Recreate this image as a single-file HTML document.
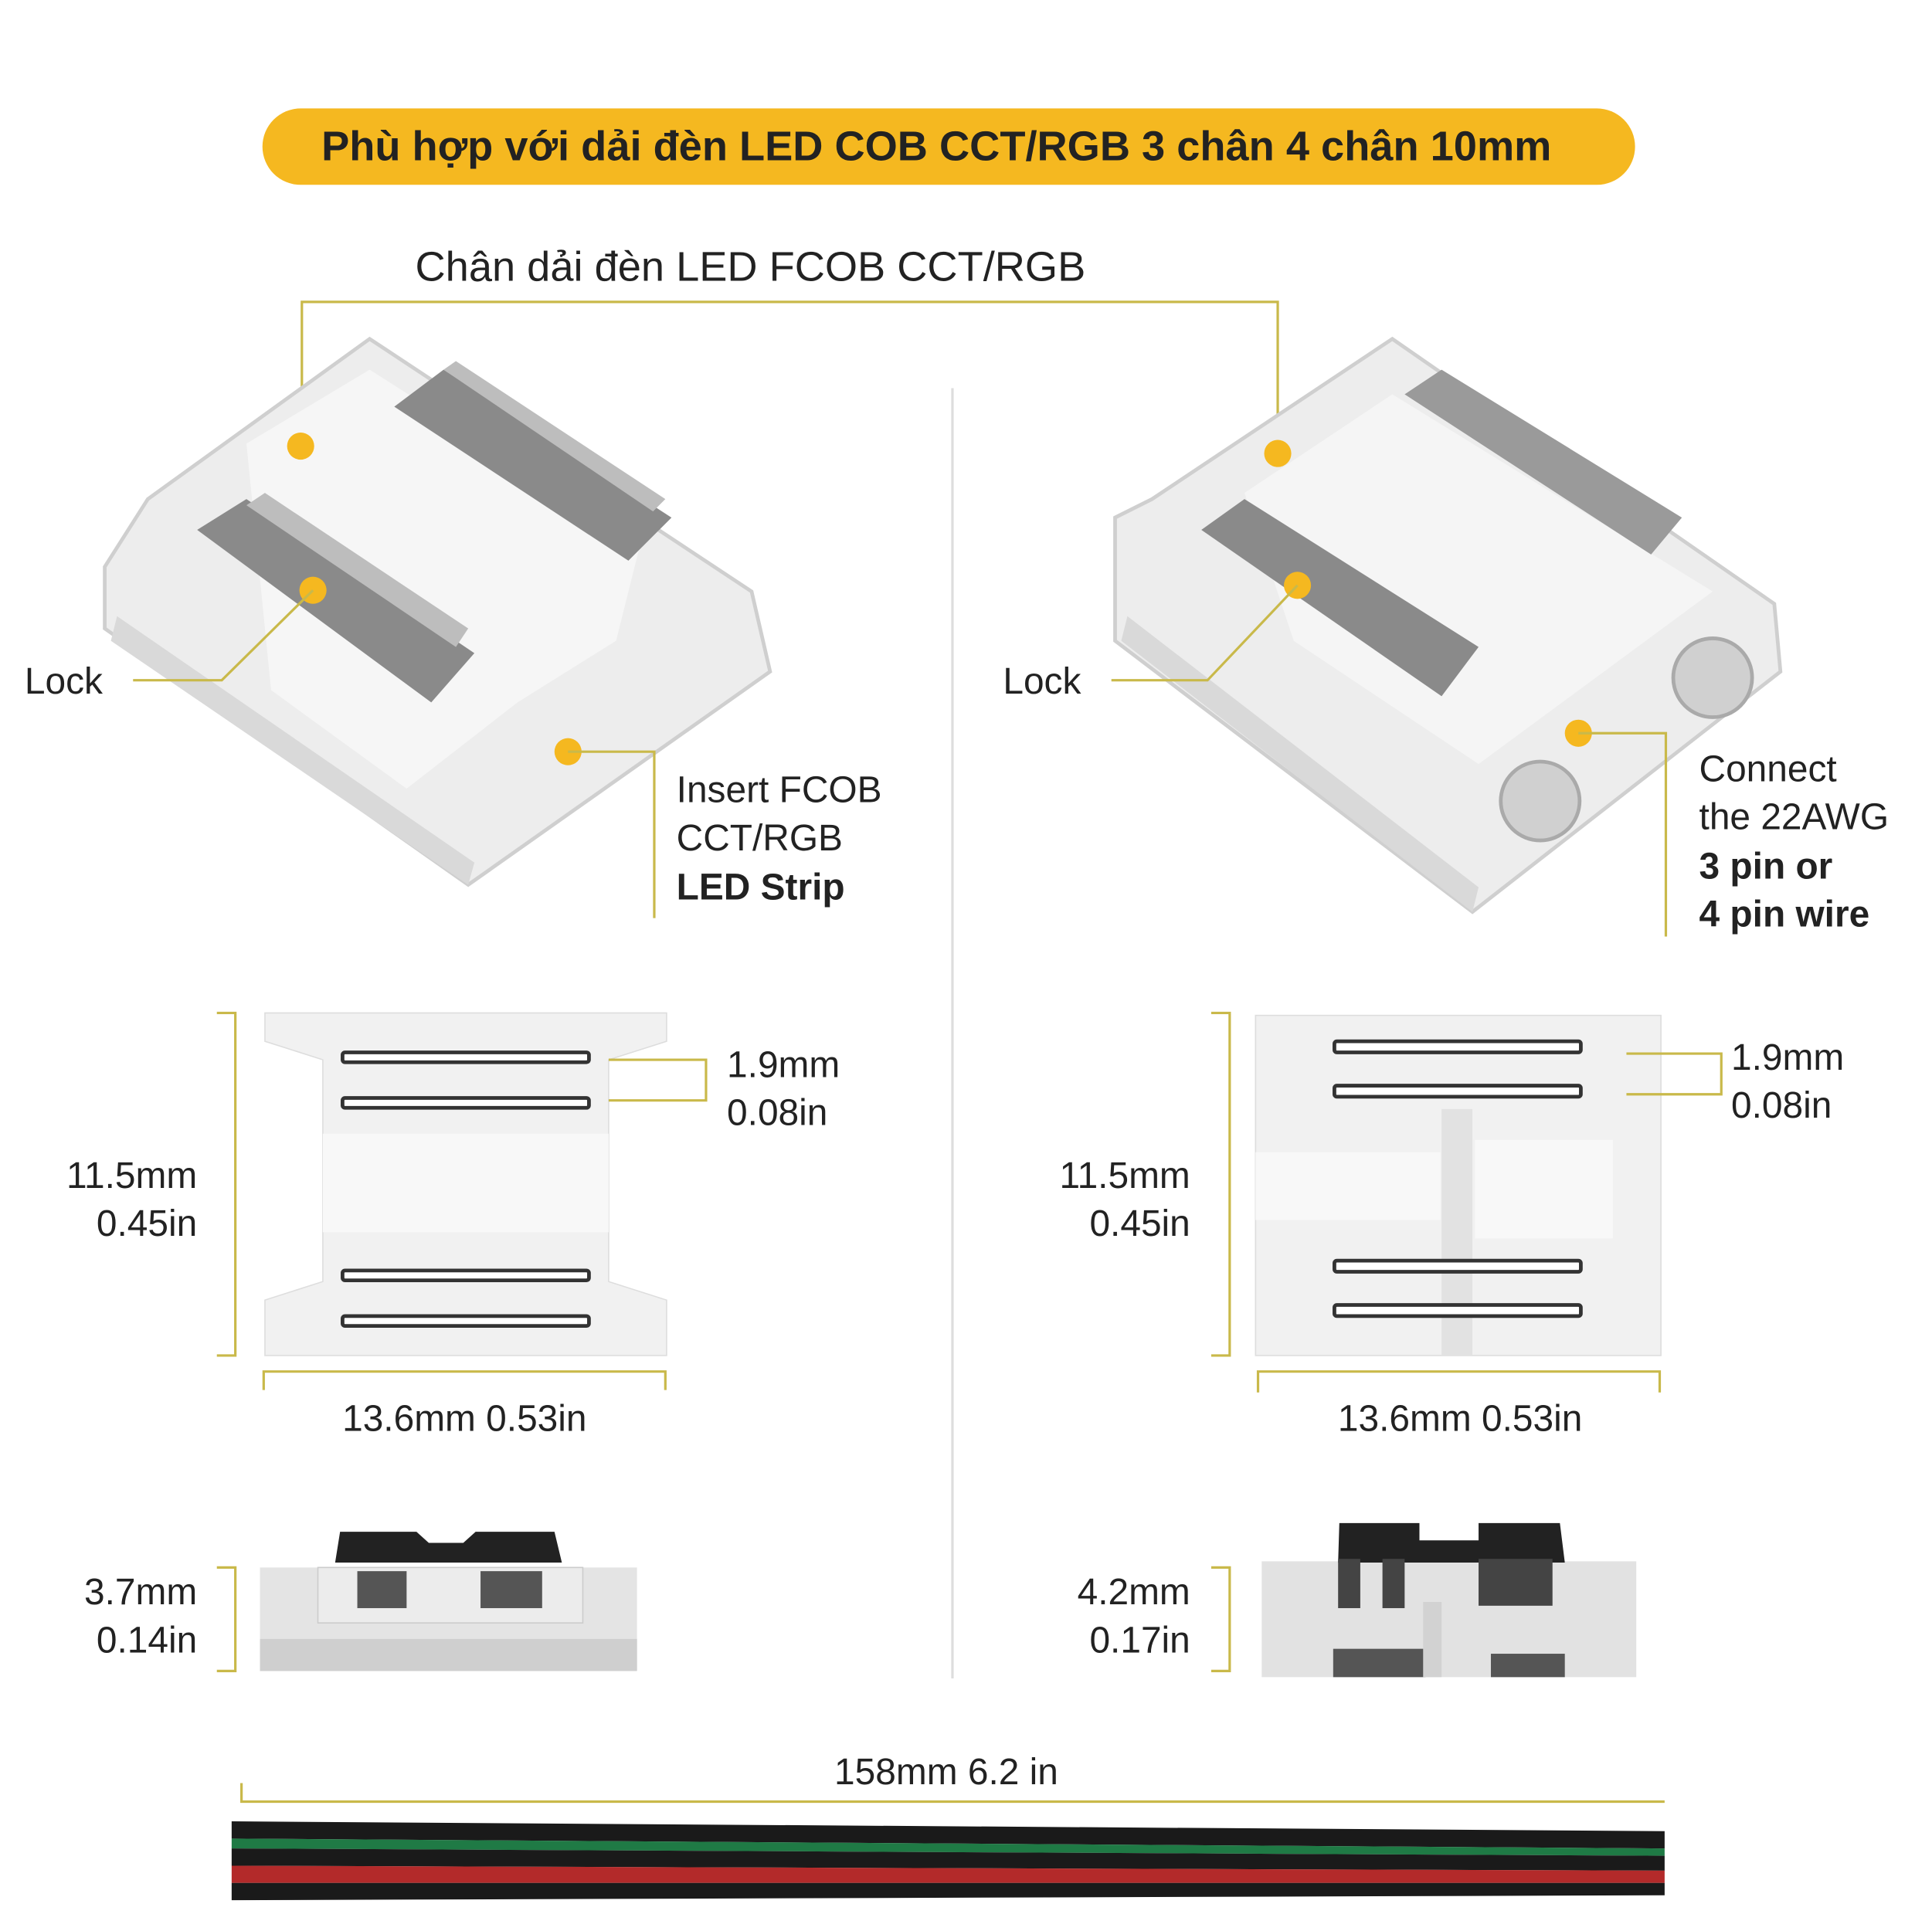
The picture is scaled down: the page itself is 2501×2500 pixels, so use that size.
<!DOCTYPE html>
<html><head><meta charset="utf-8"><style>
html,body{margin:0;padding:0;background:#fff}
svg{display:block}
text{font-family:"Liberation Sans",sans-serif;fill:#222}
</style></head><body>
<svg width="2501" height="2500" viewBox="0 0 1568 1567" preserveAspectRatio="none" xmlns="http://www.w3.org/2000/svg">
<rect width="1568" height="1567" fill="#fff"/>
<rect x="213" y="88" width="1114" height="62" rx="31" fill="#f5b820"/>
<text x="760" y="130" text-anchor="middle" font-size="34" font-weight="bold" fill="#111">Phù hợp với dải đèn LED COB CCT/RGB 3 chân 4 chân 10mm</text>
<text x="337" y="228" font-size="34">Chân dải đèn LED FCOB CCT/RGB</text>
<polyline points="245,360 245,245 1037,245 1037,368" fill="none" stroke="#c9b94a" stroke-width="2"/>
<line x1="773" y1="315" x2="773" y2="1362" stroke="#ddd" stroke-width="2"/>

<!-- left connector -->
<polygon points="85,460 120,405 300,275 610,480 625,545 380,718 85,510" fill="#ededed" stroke="#cfcfcf" stroke-width="3"/>
<polygon points="200,360 300,300 520,440 500,520 420,570 330,640 220,560" fill="#f6f6f6"/>
<polygon points="160,430 200,405 385,530 350,570" fill="#8a8a8a"/>
<polygon points="200,410 215,400 380,510 370,525" fill="#bdbdbd"/>
<polygon points="320,330 360,300 545,420 510,455" fill="#8a8a8a"/>
<polygon points="360,300 370,293 540,405 530,415" fill="#bdbdbd"/>
<polygon points="90,520 380,718 385,700 95,500" fill="#d9d9d9"/>
<circle cx="244" cy="362" r="11" fill="#f5b820"/>
<circle cx="254" cy="479" r="11" fill="#f5b820"/>
<circle cx="461" cy="610" r="11" fill="#f5b820"/>
<polyline points="108,552 180,552 254,479" fill="none" stroke="#c9b94a" stroke-width="2"/>
<polyline points="461,610 531,610 531,745" fill="none" stroke="#c9b94a" stroke-width="2"/>
<text x="20" y="563" font-size="30">Lock</text>
<text x="549" y="651" font-size="30">Insert FCOB</text>
<text x="549" y="690" font-size="30">CCT/RGB</text>
<text x="549" y="730" font-size="30" font-weight="bold">LED Strip</text>

<!-- right connector -->
<polygon points="905,420 935,405 1130,275 1440,490 1445,545 1195,740 905,520" fill="#ededed" stroke="#cfcfcf" stroke-width="3"/>
<polygon points="1010,400 1130,320 1390,480 1200,620 1050,520" fill="#f5f5f5"/>
<polygon points="975,430 1010,405 1200,525 1170,565" fill="#8a8a8a"/>
<polygon points="1140,320 1170,300 1365,420 1340,450" fill="#9a9a9a"/>
<circle cx="1250" cy="650" r="32" fill="#d0d0d0" stroke="#aaa" stroke-width="3"/>
<circle cx="1390" cy="550" r="32" fill="#d0d0d0" stroke="#aaa" stroke-width="3"/>
<polygon points="910,520 1195,740 1200,720 915,500" fill="#d9d9d9"/>
<circle cx="1037" cy="368" r="11" fill="#f5b820"/>
<circle cx="1053" cy="475" r="11" fill="#f5b820"/>
<circle cx="1281" cy="595" r="11" fill="#f5b820"/>
<polyline points="902,552 980,552 1053,475" fill="none" stroke="#c9b94a" stroke-width="2"/>
<polyline points="1281,595 1352,595 1352,760" fill="none" stroke="#c9b94a" stroke-width="2"/>
<text x="814" y="563" font-size="30">Lock</text>
<text x="1379" y="634" font-size="30">Connect</text>
<text x="1379" y="673" font-size="30">the 22AWG</text>
<text x="1379" y="713" font-size="30" font-weight="bold">3 pin or</text>
<text x="1379" y="752" font-size="30" font-weight="bold">4 pin wire</text>

<!-- left top view -->
<polygon points="215,822 541,822 541,845 494,860 494,1040 541,1055 541,1100 215,1100 215,1055 262,1040 262,860 215,845" fill="#f1f1f1" stroke="#ddd"/>
<rect x="262" y="920" width="232" height="80" fill="#f8f8f8"/>
<g fill="#fff" stroke="#333" stroke-width="3">
<rect x="278" y="854" width="200" height="8" rx="2"/><rect x="278" y="891" width="200" height="8" rx="2"/>
<rect x="278" y="1031" width="200" height="8" rx="2"/><rect x="278" y="1068" width="200" height="8" rx="2"/>
</g>
<polyline points="494,860 573,860 573,893 494,893" fill="none" stroke="#c9b94a" stroke-width="2"/>
<text x="590" y="874" font-size="30">1.9mm</text>
<text x="590" y="913" font-size="30">0.08in</text>
<polyline points="176,822 191,822 191,1100 176,1100" fill="none" stroke="#c9b94a" stroke-width="2"/>
<text x="160" y="964" font-size="30" text-anchor="end">11.5mm</text>
<text x="160" y="1003" font-size="30" text-anchor="end">0.45in</text>
<polyline points="214,1128 214,1113 540,1113 540,1128" fill="none" stroke="#c9b94a" stroke-width="2"/>
<text x="377" y="1161" font-size="30" text-anchor="middle">13.6mm 0.53in</text>

<!-- right top view -->
<rect x="1019" y="824" width="329" height="276" fill="#f1f1f1" stroke="#ddd"/>
<rect x="1170" y="900" width="25" height="200" fill="#e2e2e2"/>
<rect x="1019" y="935" width="150" height="55" fill="#f8f8f8"/>
<rect x="1197" y="925" width="112" height="80" fill="#f8f8f8"/>
<g fill="#fff" stroke="#333" stroke-width="3">
<rect x="1083" y="845" width="200" height="9" rx="2"/><rect x="1083" y="881" width="200" height="9" rx="2"/>
<rect x="1083" y="1023" width="200" height="9" rx="2"/><rect x="1083" y="1059" width="200" height="9" rx="2"/>
</g>
<polyline points="1320,855 1397,855 1397,888 1320,888" fill="none" stroke="#c9b94a" stroke-width="2"/>
<text x="1405" y="868" font-size="30">1.9mm</text>
<text x="1405" y="907" font-size="30">0.08in</text>
<polyline points="983,822 998,822 998,1100 983,1100" fill="none" stroke="#c9b94a" stroke-width="2"/>
<text x="966" y="964" font-size="30" text-anchor="end">11.5mm</text>
<text x="966" y="1003" font-size="30" text-anchor="end">0.45in</text>
<polyline points="1021,1130 1021,1113 1347,1113 1347,1130" fill="none" stroke="#c9b94a" stroke-width="2"/>
<text x="1185" y="1161" font-size="30" text-anchor="middle">13.6mm 0.53in</text>

<!-- left side view -->
<rect x="211" y="1272" width="306" height="84" fill="#e4e4e4"/>
<rect x="211" y="1330" width="306" height="26" fill="#cfcfcf"/>
<rect x="258" y="1272" width="215" height="45" fill="#ececec" stroke="#ccc"/>
<path d="M276,1243 L338,1243 L348,1252 L376,1252 L386,1243 L450,1243 L456,1268 L272,1268 Z" fill="#222"/>
<path d="M290,1275 h40 v30 h-40z M390,1275 h50 v30 h-50z" fill="#555"/>
<polyline points="176,1272 191,1272 191,1356 176,1356" fill="none" stroke="#c9b94a" stroke-width="2"/>
<text x="160" y="1302" font-size="30" text-anchor="end">3.7mm</text>
<text x="160" y="1341" font-size="30" text-anchor="end">0.14in</text>

<!-- right side view -->
<rect x="1024" y="1267" width="304" height="94" fill="#e2e2e2"/>
<rect x="1082" y="1338" width="75" height="23" fill="#555"/>
<rect x="1210" y="1342" width="60" height="19" fill="#555"/>
<rect x="1155" y="1300" width="15" height="61" fill="#d2d2d2"/>
<path d="M1087,1236 L1152,1236 L1152,1250 L1200,1250 L1200,1236 L1266,1236 L1270,1268 L1086,1268 Z" fill="#222"/>
<path d="M1086,1265 h18 v40 h-18z M1122,1265 h18 v40 h-18z M1200,1265 h60 v38 h-60z" fill="#444"/>
<polyline points="983,1272 998,1272 998,1356 983,1356" fill="none" stroke="#c9b94a" stroke-width="2"/>
<text x="966" y="1302" font-size="30" text-anchor="end">4.2mm</text>
<text x="966" y="1341" font-size="30" text-anchor="end">0.17in</text>

<!-- wire -->
<polyline points="196,1447 196,1462 1351,1462" fill="none" stroke="#c9b94a" stroke-width="2"/>
<text x="768" y="1448" font-size="30" text-anchor="middle">158mm 6.2 in</text>
<path d="M188,1478 L1351,1486 L1351,1500 L188,1492 Z" fill="#1a1a1a"/>
<path d="M188,1492 L1351,1500 L1351,1506 L188,1500 Z" fill="#1f7a45"/>
<path d="M188,1500 L1351,1506 L1351,1518 L188,1514 Z" fill="#1a1a1a"/>
<path d="M188,1514 L1351,1518 L1351,1528 L188,1528 Z" fill="#b32a2a"/>
<path d="M188,1528 L1351,1528 L1351,1538 L188,1542 Z" fill="#1a1a1a"/>
</svg>
</body></html>
